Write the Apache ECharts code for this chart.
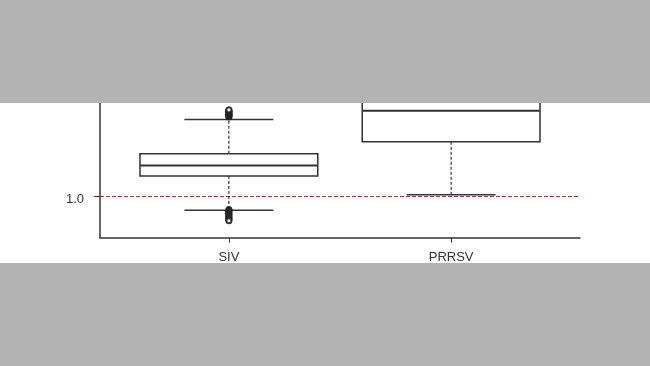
<!DOCTYPE html>
<html>
<head>
<meta charset="utf-8">
<script src="https://cdn.jsdelivr.net/npm/echarts@6/dist/echarts.min.js"></script>
<style>
html,body{margin:0;padding:0;background:#fff;}
#chart{width:650px;height:366px;}
</style>
</head>
<body>
<div id="chart"></div>
<script>
// ---- data ----
var categories = ['SIV', 'PRRSV'];
var categoryPos = [1, 2];
var whiskerLow = [0.927, 1.005];
var quartile1 = [1.099, 1.27];
var medians = [1.152, 1.425];
var quartile3 = [1.21, 1.62];
var whiskerHigh = [1.382, 2.10];
var sivOutliers = [1.394, 1.397, 1.400, 1.403, 1.406, 1.409, 1.412, 1.415, 1.418, 1.421, 1.424, 1.427, 1.430,
                   0.931, 0.927, 0.922, 0.918, 0.913, 0.908, 0.903, 0.898, 0.893, 0.888, 0.884, 0.879, 0.875];
var yTickValues = [1.0];
var yTickLabels = ['1.0'];
var refLine = 1.0;

var boxData = categoryPos.map(function (p, i) {
  return [p, whiskerLow[i], quartile1[i], medians[i], quartile3[i], whiskerHigh[i]];
});
var outlierData = sivOutliers.map(function (v) { return [categoryPos[0], v]; });

var chart = echarts.init(document.getElementById('chart'));
var font = 'Liberation Sans, Arial, sans-serif';
chart.setOption({
  animation: false,
  backgroundColor: '#fff',
  grid: { left: 100, right: 70, top: 0, bottom: 128.3, containLabel: false },
  xAxis: {
    type: 'value', min: 0.42, max: 2.58,
    splitLine: { show: false },
    axisLine: { show: true, onZero: false, lineStyle: { color: '#333', width: 1.5 } },
    axisTick: { show: true, customValues: categoryPos, length: 5, lineStyle: { color: '#333', width: 1 } },
    axisLabel: {
      customValues: categoryPos, margin: 13, color: '#333', fontSize: 13, fontFamily: font,
      formatter: function (v) { return categories[categoryPos.indexOf(Math.round(v))]; }
    }
  },
  yAxis: {
    type: 'value', min: 0.79, max: 1.98,
    splitLine: { show: false },
    axisLine: { show: true, onZero: false, lineStyle: { color: '#333', width: 1.5 } },
    axisTick: { show: true, customValues: yTickValues, length: 6, lineStyle: { color: '#333', width: 1 } },
    axisLabel: {
      customValues: yTickValues, margin: 16, color: '#333', fontSize: 13, fontFamily: font,
      verticalAlign: 'top', lineHeight: 8,
      formatter: function (v) { return yTickLabels[yTickValues.indexOf(v)]; }
    }
  },
  series: [
    {
      type: 'custom',
      data: boxData,
      encode: { x: 0, y: [1, 2, 3, 4, 5] },
      z: 3,
      renderItem: function (params, api) {
        var x = api.value(0);
        var lo = api.value(1), q1 = api.value(2), med = api.value(3), q3 = api.value(4), hi = api.value(5);
        var hb = 0.4, hc = 0.2;
        var c = api.coord([x, med]);
        var pLo = api.coord([x, lo]), pQ1 = api.coord([x, q1]), pQ3 = api.coord([x, q3]), pHi = api.coord([x, hi]);
        var bl = api.coord([x - hb, q3]), br = api.coord([x + hb, q1]);
        var cl = api.coord([x - hc, lo]), cr = api.coord([x + hc, lo]);
        var stroke = '#333';
        return {
          type: 'group',
          children: [
            { type: 'line', shape: { x1: c[0], y1: pQ3[1], x2: c[0], y2: pHi[1] }, style: { stroke: '#111', lineWidth: 1, lineDash: [3, 2] } },
            { type: 'line', shape: { x1: c[0], y1: pQ1[1], x2: c[0], y2: pLo[1] }, style: { stroke: '#111', lineWidth: 1, lineDash: [3, 2] } },
            { type: 'rect', shape: { x: bl[0], y: bl[1], width: br[0] - bl[0], height: br[1] - bl[1] }, style: { fill: '#fff', stroke: stroke, lineWidth: 1.5 } },
            { type: 'line', shape: { x1: bl[0], y1: c[1], x2: br[0], y2: c[1] }, style: { stroke: stroke, lineWidth: 2 } },
            { type: 'line', shape: { x1: cl[0], y1: pLo[1], x2: cr[0], y2: pLo[1] }, style: { stroke: stroke, lineWidth: 1.5 } },
            { type: 'line', shape: { x1: cl[0], y1: pHi[1], x2: cr[0], y2: pHi[1] }, style: { stroke: stroke, lineWidth: 1.5 } }
          ]
        };
      },
      markLine: {
        silent: true, symbol: 'none', z: 2,
        label: { show: false },
        lineStyle: { color: '#e02020', type: [4, 2], width: 1 },
        data: [{ yAxis: refLine }]
      }
    },
    {
      type: 'scatter',
      data: outlierData,
      symbol: 'emptyCircle',
      symbolSize: 5,
      z: 4,
      itemStyle: { color: '#222', borderWidth: 1.2, opacity: 0.85 }
    }
  ],
  graphic: [
    { type: 'rect', z: 100, shape: { x: 0, y: 0, width: 650, height: 103 }, style: { fill: '#b3b3b3' } },
    { type: 'rect', z: 100, shape: { x: 0, y: 263, width: 650, height: 103 }, style: { fill: '#b3b3b3' } }
  ]
});
</script>
</body>
</html>
